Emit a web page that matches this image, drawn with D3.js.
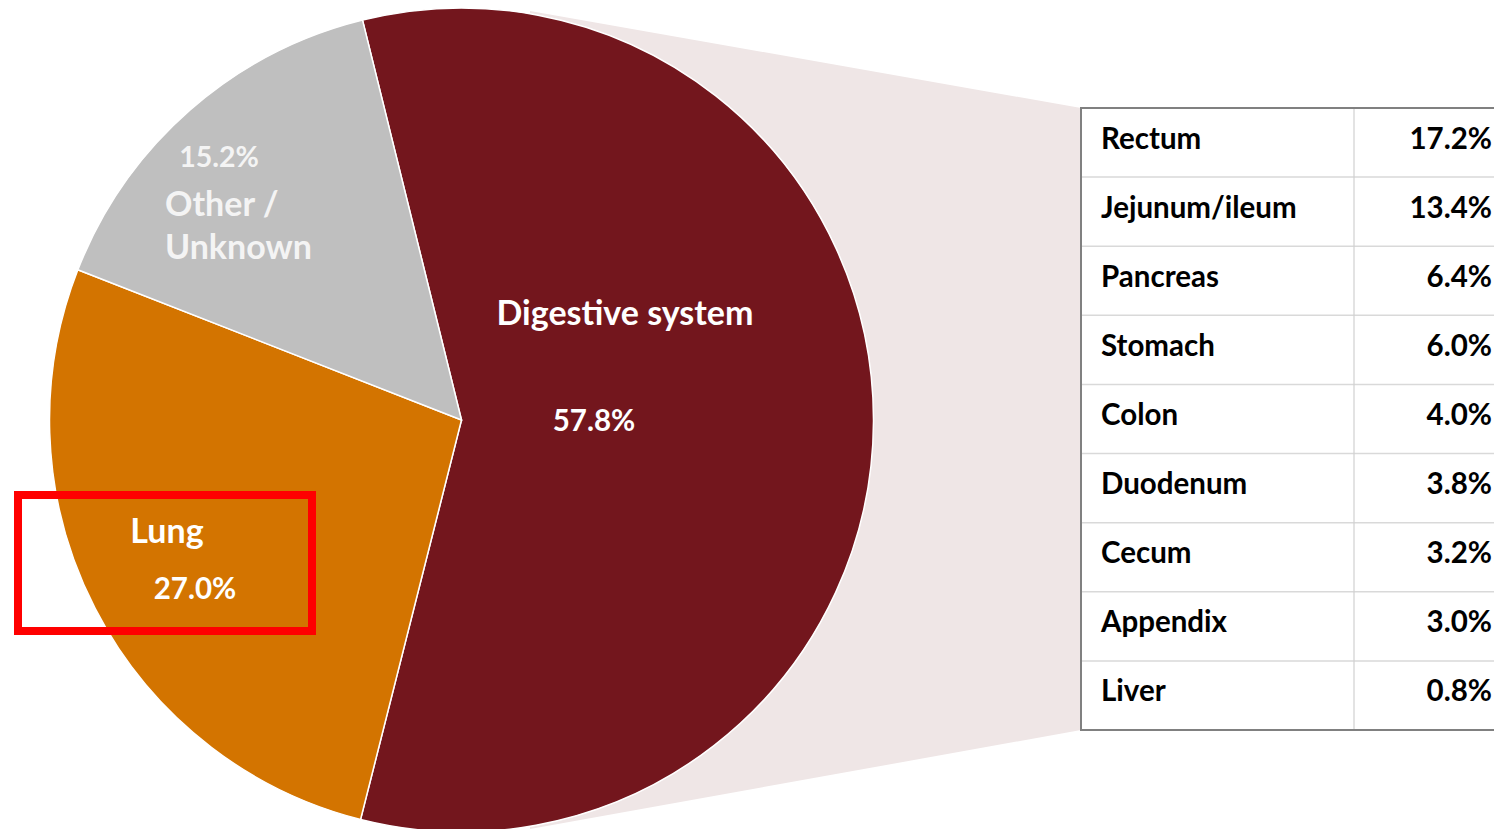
<!DOCTYPE html>
<html>
<head>
<meta charset="utf-8">
<script src="https://cdn.jsdelivr.net/npm/d3@7"></script>
<style>
  html, body { margin: 0; padding: 0; background: #fff; }
  svg { display: block; }
  text { font-family: Lato, "Open Sans", sans-serif; font-weight: 700; }
</style>
</head>
<body>
<svg id="chart" width="1494" height="829"></svg>
<script>
// Primary sites
const sites = ["Digestive system", "Lung", "Other / Unknown"];
const siteValues = [57.8, 27.0, 15.2];
const siteColors = ["#73161d", "#d37400", "#bfbfbf"];

// Breakdown of the digestive system
const subsites = ["Rectum", "Jejunum/ileum", "Pancreas", "Stomach", "Colon", "Duodenum", "Cecum", "Appendix", "Liver"];
const subsiteValues = [17.2, 13.4, 6.4, 6.0, 4.0, 3.8, 3.2, 3.0, 0.8];

const svg = d3.select("#chart");
const cx = 461.5, cy = 420, r = 412;

const tableX = 1081, tableTop = 108, tableBottom = 730, colX = 1354, tableRight = 1500;

// connector fan between the pie and the table
svg.append("polygon")
  .attr("points", [[530, 11], [tableX, tableTop], [tableX, tableBottom], [530, 829]].map(p => p.join(",")).join(" "))
  .attr("fill", "#efe6e6");

const start = -13.9 * Math.PI / 180;
const pie = d3.pie().sort(null).startAngle(start).endAngle(start + 2 * Math.PI);
const arcs = pie(siteValues);
const arc = d3.arc().innerRadius(0).outerRadius(r);

const g = svg.append("g").attr("transform", `translate(${cx},${cy})`);
g.selectAll("path").data(arcs).join("path")
  .attr("d", arc)
  .attr("fill", (d, i) => siteColors[i])
  .attr("stroke", "#fff")
  .attr("stroke-width", 1.5);

const fmt = v => v.toFixed(1) + "%";

// slice labels
const labels = svg.append("g").attr("fill", "#fff");
labels.append("text").attr("x", 625).attr("y", 325).attr("text-anchor", "middle")
  .attr("font-size", 34).text(sites[0]);
labels.append("text").attr("x", 594).attr("y", 431).attr("text-anchor", "middle")
  .attr("font-size", 29.5).text(fmt(siteValues[0]));

labels.append("text").attr("x", 167).attr("y", 543).attr("text-anchor", "middle")
  .attr("font-size", 34).text(sites[1]);
labels.append("text").attr("x", 195).attr("y", 599).attr("text-anchor", "middle")
  .attr("font-size", 29.5).text(fmt(siteValues[1]));

const other = labels.append("g").attr("fill", "#f4f4f4");
other.append("text").attr("x", 219).attr("y", 167).attr("text-anchor", "middle")
  .attr("font-size", 28.5).text(fmt(siteValues[2]));
const parts = sites[2].split(" / ");
other.append("text").attr("x", 165).attr("y", 216).attr("font-size", 34).text(parts[0] + " /");
other.append("text").attr("x", 165).attr("y", 259).attr("font-size", 34).text(parts[1]);

// highlight box around the lung label
svg.append("rect")
  .attr("x", 18).attr("y", 495).attr("width", 294).attr("height", 136)
  .attr("fill", "none").attr("stroke", "#ff0000").attr("stroke-width", 8);

// table of digestive subsites
const y = d3.scaleBand().domain(subsites).range([tableTop, tableBottom]);
const tbl = svg.append("g");
tbl.append("rect").attr("x", tableX).attr("y", tableTop)
  .attr("width", tableRight - tableX).attr("height", tableBottom - tableTop)
  .attr("fill", "#fff");
tbl.selectAll("line.row").data(subsites.slice(1)).join("line")
  .attr("class", "row")
  .attr("x1", tableX).attr("x2", tableRight)
  .attr("y1", d => y(d)).attr("y2", d => y(d))
  .attr("stroke", "#d9d9d9").attr("stroke-width", 1.5);
tbl.append("line").attr("x1", colX).attr("x2", colX)
  .attr("y1", tableTop).attr("y2", tableBottom)
  .attr("stroke", "#d0d0d0").attr("stroke-width", 1.2);
tbl.append("rect").attr("x", tableX).attr("y", tableTop)
  .attr("width", tableRight - tableX).attr("height", tableBottom - tableTop)
  .attr("fill", "none").attr("stroke", "#808080").attr("stroke-width", 2);

tbl.selectAll("text.name").data(subsites).join("text")
  .attr("class", "name")
  .attr("x", 1101).attr("y", d => y(d) + y.bandwidth() / 2 + 6)
  .attr("font-size", 29.5).attr("fill", "#000").text(d => d);
tbl.selectAll("text.val").data(subsiteValues).join("text")
  .attr("class", "val")
  .attr("x", 1492).attr("y", (d, i) => y(subsites[i]) + y.bandwidth() / 2 + 6)
  .attr("text-anchor", "end")
  .attr("font-size", 29.5).attr("fill", "#000").text(fmt);
</script>
</body>
</html>
